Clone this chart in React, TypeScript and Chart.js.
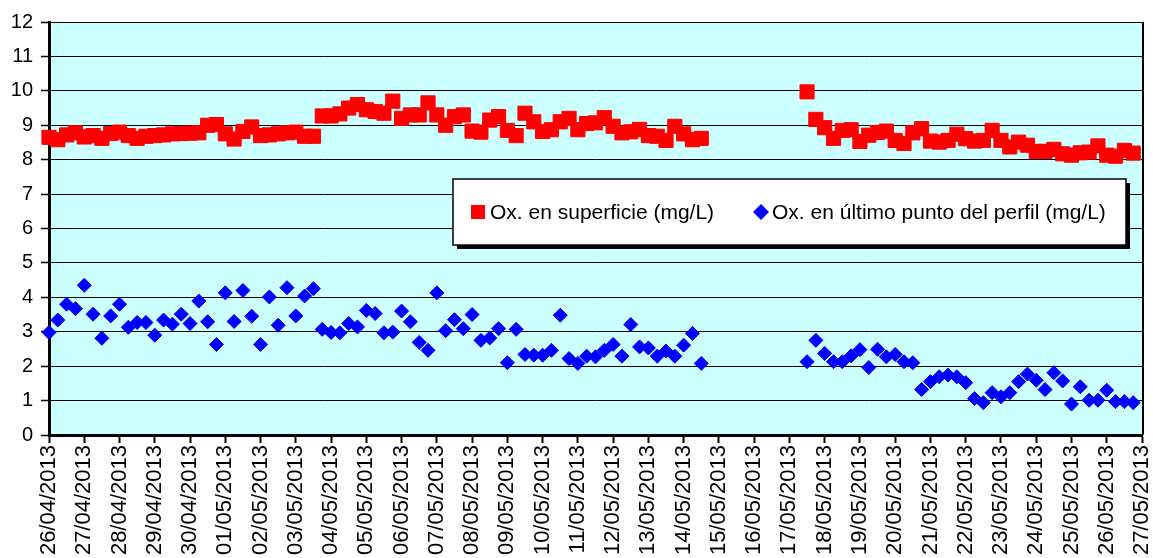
import React, { useEffect, useRef } from 'react';
import { Chart, registerables } from 'chart.js';

Chart.register(...registerables);

// Day tick labels (x axis): 26/04/2013 ... 27/05/2013
const dayLabels: string[] = [
  '26/04/2013', '27/04/2013', '28/04/2013', '29/04/2013', '30/04/2013',
  '01/05/2013', '02/05/2013', '03/05/2013', '04/05/2013', '05/05/2013',
  '06/05/2013', '07/05/2013', '08/05/2013', '09/05/2013', '10/05/2013',
  '11/05/2013', '12/05/2013', '13/05/2013', '14/05/2013', '15/05/2013',
  '16/05/2013', '17/05/2013', '18/05/2013', '19/05/2013', '20/05/2013',
  '21/05/2013', '22/05/2013', '23/05/2013', '24/05/2013', '25/05/2013',
  '26/05/2013', '27/05/2013',
];
const samplesPerDay = 4; // one reading every 6 hours

const seriesNames: string[] = [
  'Ox. en superficie (mg/L)',
  'Ox. en último punto del perfil (mg/L)',
];

// Surface oxygen (mg/L), 26/04 00h .. 14/05 12h
const surfaceBeforeGap: number[] = [
  8.65, 8.58, 8.72, 8.78, 8.66, 8.7, 8.62, 8.76, 8.8, 8.7, 8.62, 8.68, 8.7, 8.72, 8.75, 8.76, 8.77, 8.78,
  9.0, 9.02, 8.75, 8.6, 8.82, 8.95, 8.7, 8.72, 8.75, 8.78, 8.8, 8.68, 8.68, 9.27, 9.27, 9.33, 9.5, 9.6,
  9.45, 9.4, 9.35, 9.7, 9.2, 9.3, 9.3, 9.65, 9.3, 9.0, 9.25, 9.3, 8.83, 8.8, 9.15, 9.25, 8.85, 8.7, 9.35,
  9.1, 8.82, 8.87, 9.1, 9.2, 8.87, 9.05, 9.07, 9.22, 8.97, 8.78, 8.81, 8.88, 8.7, 8.68, 8.56, 8.97, 8.75,
  8.58, 8.62,
];
// Surface oxygen (mg/L), 17/05 12h .. 26/05 18h
const surfaceAfterGap: number[] = [
  9.97, 9.17, 8.93, 8.62, 8.85, 8.87, 8.53, 8.71, 8.79, 8.83, 8.56, 8.47, 8.78, 8.9, 8.54, 8.51, 8.56,
  8.74, 8.61, 8.54, 8.56, 8.85, 8.56, 8.37, 8.51, 8.42, 8.24, 8.24, 8.3, 8.17, 8.13, 8.2, 8.22, 8.4,
  8.13, 8.1, 8.27, 8.19,
];

// Oxygen at last profile point (mg/L)
const bottomBeforeGap: number[] = [
  2.98, 3.34, 3.8, 3.67, 4.35, 3.51, 2.81, 3.46, 3.8, 3.13, 3.27, 3.27, 2.9, 3.34, 3.22, 3.51, 3.24,
  3.89, 3.29, 2.63, 4.13, 3.3, 4.2, 3.45, 2.63, 4.01, 3.19, 4.28, 3.46, 4.04, 4.25, 3.07, 2.98, 2.97,
  3.24, 3.14, 3.62, 3.53, 2.97, 2.99, 3.6, 3.29, 2.69, 2.46, 4.13, 3.03, 3.35, 3.09, 3.5, 2.75, 2.82,
  3.09, 2.1, 3.07, 2.34, 2.32, 2.32, 2.46, 3.48, 2.22, 2.08, 2.29, 2.27, 2.46, 2.63, 2.29, 3.21, 2.56,
  2.53, 2.29, 2.44, 2.29, 2.61, 2.95, 2.08,
];
const bottomAfterGap: number[] = [
  2.13, 2.75, 2.37, 2.13, 2.13, 2.3, 2.48, 1.96, 2.49, 2.27, 2.34, 2.13, 2.1, 1.32, 1.55, 1.69, 1.74,
  1.69, 1.52, 1.06, 0.94, 1.23, 1.11, 1.23, 1.55, 1.77, 1.59, 1.32, 1.81, 1.57, 0.9, 1.4, 1.01, 1.01,
  1.3, 0.97, 0.97, 0.94,
];
const missingSamples = 11; // no readings 14/05 18h .. 17/05 06h

const yMin = 0;
const yMax = 12;
const yStep = 1;

const colors = {
  surface: '#FF0000',
  bottom: '#0000FF',
  plotBg: '#CCFFFF',
};

const FONT = "'Liberation Sans', Arial, sans-serif";

const gap = (n: number): null[] => new Array(n).fill(null);
const surfaceSeries = [...surfaceBeforeGap, ...gap(missingSamples), ...surfaceAfterGap, null];
const bottomSeries = [...bottomBeforeGap, ...gap(missingSamples), ...bottomAfterGap, null];
const slotLabels: string[] = surfaceSeries.map((_, i) =>
  i % samplesPerDay === 0 ? dayLabels[i / samplesPerDay] : ''
);

const plotAreaPlugin = {
  id: 'plotArea',
  beforeDraw(chart: any) {
    const { ctx, chartArea } = chart;
    ctx.save();
    ctx.fillStyle = colors.plotBg;
    ctx.fillRect(chartArea.left, chartArea.top, chartArea.right - chartArea.left, chartArea.bottom - chartArea.top);
    ctx.restore();
  },
  beforeDatasetsDraw(chart: any) {
    const { ctx, chartArea } = chart;
    ctx.save();
    ctx.strokeStyle = '#000';
    ctx.lineWidth = 2;
    ctx.beginPath();
    ctx.moveTo(chartArea.right + 1, chartArea.top);
    ctx.lineTo(chartArea.right + 1, chartArea.bottom);
    ctx.stroke();
    ctx.lineWidth = 1;
    ctx.beginPath();
    ctx.moveTo(chartArea.left, Math.round(chartArea.top) + 0.5);
    ctx.lineTo(chartArea.right, Math.round(chartArea.top) + 0.5);
    ctx.stroke();
    ctx.restore();
  },
};

const boxLegendPlugin = {
  id: 'boxLegend',
  afterDraw(chart: any) {
    const { ctx } = chart;
    const ds = chart.data.datasets;
    const x = 453, y = 179, w = 673, h = 66;
    ctx.save();
    ctx.fillStyle = '#000';
    ctx.fillRect(x + 4, y + 4, w, h);
    ctx.fillStyle = '#fff';
    ctx.fillRect(x, y, w, h);
    ctx.lineWidth = 1.5;
    ctx.strokeStyle = '#000';
    ctx.strokeRect(x, y, w, h);

    const cy = y + 33;
    // red square
    ctx.fillStyle = ds[0].pointBackgroundColor;
    ctx.fillRect(471, cy - 7, 14, 14);
    // blue diamond
    ctx.fillStyle = ds[1].pointBackgroundColor;
    ctx.beginPath();
    ctx.moveTo(761, cy - 8);
    ctx.lineTo(769, cy);
    ctx.lineTo(761, cy + 8);
    ctx.lineTo(753, cy);
    ctx.closePath();
    ctx.fill();

    ctx.fillStyle = '#000';
    ctx.font = `21px ${FONT}`;
    ctx.textBaseline = 'middle';
    ctx.textAlign = 'left';
    ctx.fillText(ds[0].label, 490, cy + 1);
    ctx.fillText(ds[1].label, 772, cy + 1);
    ctx.restore();
  },
};

export default function App() {
  const canvasRef = useRef<HTMLCanvasElement | null>(null);

  useEffect(() => {
    document.body.style.margin = '0';
    const canvas = canvasRef.current;
    if (!canvas) return;
    Chart.defaults.font.family = FONT;
    const chart = new Chart(canvas, {
      type: 'line',
      data: {
        labels: slotLabels,
        datasets: [
          {
            label: seriesNames[0],
            data: surfaceSeries,
            showLine: false,
            pointStyle: 'rect',
            pointRadius: 10,
            pointBackgroundColor: colors.surface,
            pointBorderColor: colors.surface,
            pointBorderWidth: 1,
            borderColor: colors.surface,
            backgroundColor: colors.surface,
            clip: false as any,
          },
          {
            label: seriesNames[1],
            data: bottomSeries,
            showLine: false,
            pointStyle: 'rectRot',
            pointRadius: 7,
            pointBackgroundColor: colors.bottom,
            pointBorderColor: colors.bottom,
            pointBorderWidth: 1,
            borderColor: colors.bottom,
            backgroundColor: colors.bottom,
            clip: false as any,
          },
        ],
      },
      options: {
        responsive: false,
        animation: false,
        events: [],
        layout: { padding: { top: 22, right: 10, left: 0, bottom: 0 } },
        plugins: {
          legend: { display: false },
          tooltip: { enabled: false },
        },
        scales: {
          x: {
            type: 'category',
            offset: false,
            grid: {
              drawOnChartArea: false,
              drawTicks: true,
              tickLength: 8,
              tickWidth: 2,
              tickColor: (c: any) => (c.index % samplesPerDay === 0 ? '#000' : 'rgba(0,0,0,0)'),
            },
            border: { color: '#000', width: 3 },
            ticks: {
              autoSkip: false,
              minRotation: 90,
              maxRotation: 90,
              padding: 2,
              color: '#000',
              font: { size: 22, family: FONT },
            },
            afterFit: (s: any) => {
              s.height = 123;
              s.paddingLeft = 0;
              s.paddingRight = 0;
            },
          },
          y: {
            min: yMin,
            max: yMax,
            ticks: {
              stepSize: yStep,
              padding: 8,
              color: '#000',
              font: { size: 20, family: FONT },
            },
            grid: {
              color: '#000',
              lineWidth: 1,
              tickLength: 8,
              tickColor: '#000',
              tickWidth: 1.5,
            },
            border: { color: '#000', width: 3 },
            afterFit: (s: any) => {
              s.width = 49;
            },
          },
        },
      },
      plugins: [plotAreaPlugin, boxLegendPlugin],
    });
    return () => chart.destroy();
  }, []);

  return (
    <div style={{ width: 1153, height: 558, position: 'relative', background: '#fff' }}>
      <canvas ref={canvasRef} width={1153} height={558} style={{ display: 'block' }} />
    </div>
  );
}
